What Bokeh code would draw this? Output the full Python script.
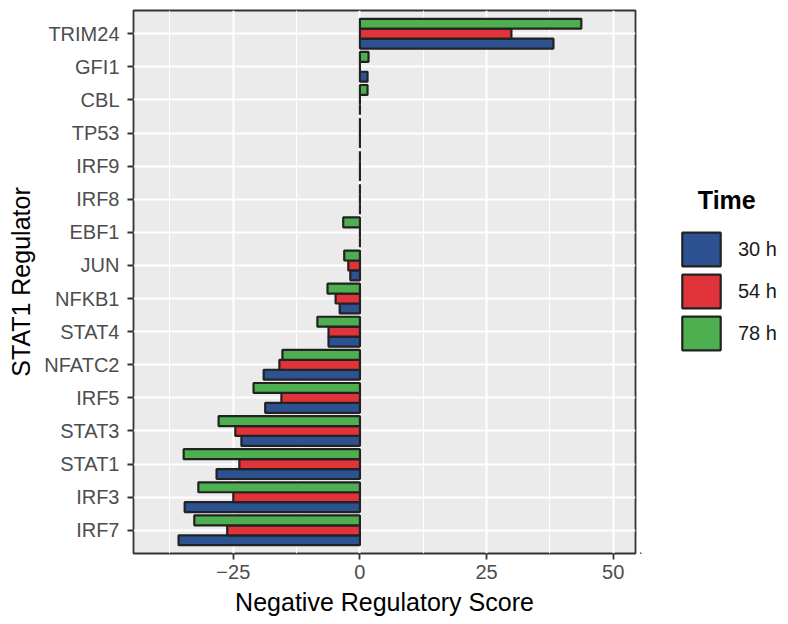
from bokeh.plotting import figure
from bokeh.layouts import row
from bokeh.models import (Range1d, FactorRange, FixedTicker, Legend, LegendItem,
                          ColumnDataSource)
from bokeh.transform import dodge
from bokeh.embed import file_html
from bokeh.resources import INLINE

regulators = ["TRIM24", "GFI1", "CBL", "TP53", "IRF9", "IRF8", "EBF1", "JUN",
              "NFKB1", "STAT4", "NFATC2", "IRF5", "STAT3", "STAT1", "IRF3", "IRF7"]
score_30h = [38.2, 1.5, 0.0, 0.0, 0.0, 0.0, 0.0, -1.9,
             -4.0, -6.2, -19.0, -18.7, -23.4, -28.3, -34.6, -35.8]
score_54h = [29.9, 0.0, 0.0, 0.0, 0.0, 0.0, 0.0, -2.3,
             -4.8, -6.2, -15.9, -15.5, -24.6, -23.8, -25.0, -26.2]
score_78h = [43.7, 1.7, 1.5, 0.0, 0.0, 0.0, -3.3, -3.1,
             -6.4, -8.4, -15.3, -21.0, -27.9, -34.8, -31.9, -32.7]
time_labels = ["30 h", "54 h", "78 h"]
time_colors = ["#2D5291", "#E0333A", "#4DAF4F"]
x_ticks = [-25, 0, 25, 50]
x_minor = [-37.5, -12.5, 12.5, 37.5]

FONT = "Liberation Sans"
EDGE = "#222222"

source = ColumnDataSource(dict(reg=regulators, v30=score_30h, v54=score_54h, v78=score_78h))

p = figure(width=640, height=624, output_backend="svg", toolbar_location=None,
           x_range=Range1d(-44.7, 54.4),
           y_range=FactorRange(factors=list(reversed(regulators)),
                               range_padding=0.2, range_padding_units="absolute"),
           min_border_left=133, min_border_right=5, min_border_top=10,
           min_border_bottom=71)

p.background_fill_color = "#EBEBEB"
p.border_fill_color = "white"
p.outline_line_color = "#333333"
p.outline_line_width = 1.8

offsets = [-0.3, 0.0, 0.3]
cols = ["v30", "v54", "v78"]
for col, off, color in zip(cols, offsets, time_colors):
    p.hbar(y=dodge("reg", off, range=p.y_range), left=0, right=col, height=0.3,
           source=source, fill_color=color, line_color=EDGE, line_width=2.2)

# axes
p.xaxis.ticker = FixedTicker(ticks=x_ticks, minor_ticks=x_minor)
p.xaxis.major_label_overrides = {-25: "\u221225", 0: "0", 25: "25", 50: "50"}
for ax in (p.xaxis[0], p.yaxis[0]):
    ax.axis_line_color = None
    ax.major_tick_line_color = "#333333"
    ax.major_tick_line_width = 1.8
    ax.major_tick_out = 6
    ax.major_tick_in = 0
    ax.minor_tick_line_color = None
    ax.major_label_text_font = FONT
    ax.major_label_text_font_size = "20px"
    ax.major_label_text_color = "#4D4D4D"
    ax.axis_label_text_font = FONT
    ax.axis_label_text_font_size = "25px"
    ax.axis_label_text_font_style = "normal"
    ax.axis_label_text_color = "black"
p.xaxis.major_label_standoff = 5
p.xaxis.axis_label_standoff = 6
p.yaxis.major_label_standoff = 8
p.yaxis.axis_label_standoff = 6
p.xaxis.axis_label = "Negative Regulatory Score"
p.yaxis.axis_label = "STAT1 Regulator"

# grid
p.xgrid.grid_line_color = "white"
p.xgrid.grid_line_width = 2
p.xgrid.minor_grid_line_color = "white"
p.xgrid.minor_grid_line_width = 1
p.ygrid.grid_line_color = "white"
p.ygrid.grid_line_width = 2

# legend panel (separate figure holding only the legend keys;
# key renderers hold one point placed outside the visible range)
lg = figure(width=148, height=624, output_backend="svg", toolbar_location=None,
            x_range=Range1d(0, 1), y_range=Range1d(0, 1),
            x_axis_location=None, y_axis_location=None, min_border=0)
lg.outline_line_color = None
lg.background_fill_color = "white"
lg.border_fill_color = "white"
lg.xgrid.visible = False
lg.ygrid.visible = False
key_renderers = []
for color in time_colors:
    r = lg.hbar(y=[-10], left=[-10], right=[-9], height=1, fill_color=color,
                line_color=EDGE, line_width=2.2)
    key_renderers.append(r)
items = [LegendItem(label=lab, renderers=[r], index=0)
         for lab, r in zip(time_labels, key_renderers)]
legend = Legend(items=items, location=(37, 199), glyph_width=48, glyph_height=42,
                spacing=0, padding=0, margin=0, label_standoff=13,
                title="\u00a0\u00a0\u00a0Time", title_text_font=FONT,
                title_text_font_size="25px", title_text_font_style="bold",
                title_text_color="black", title_standoff=13,
                label_text_font=FONT, label_text_font_size="20px",
                label_text_color="#1A1A1A", border_line_color=None,
                background_fill_alpha=0)
lg.add_layout(legend, "center")

layout = row(p, lg, spacing=0)
open("out.html", "w").write(file_html(layout, INLINE))
